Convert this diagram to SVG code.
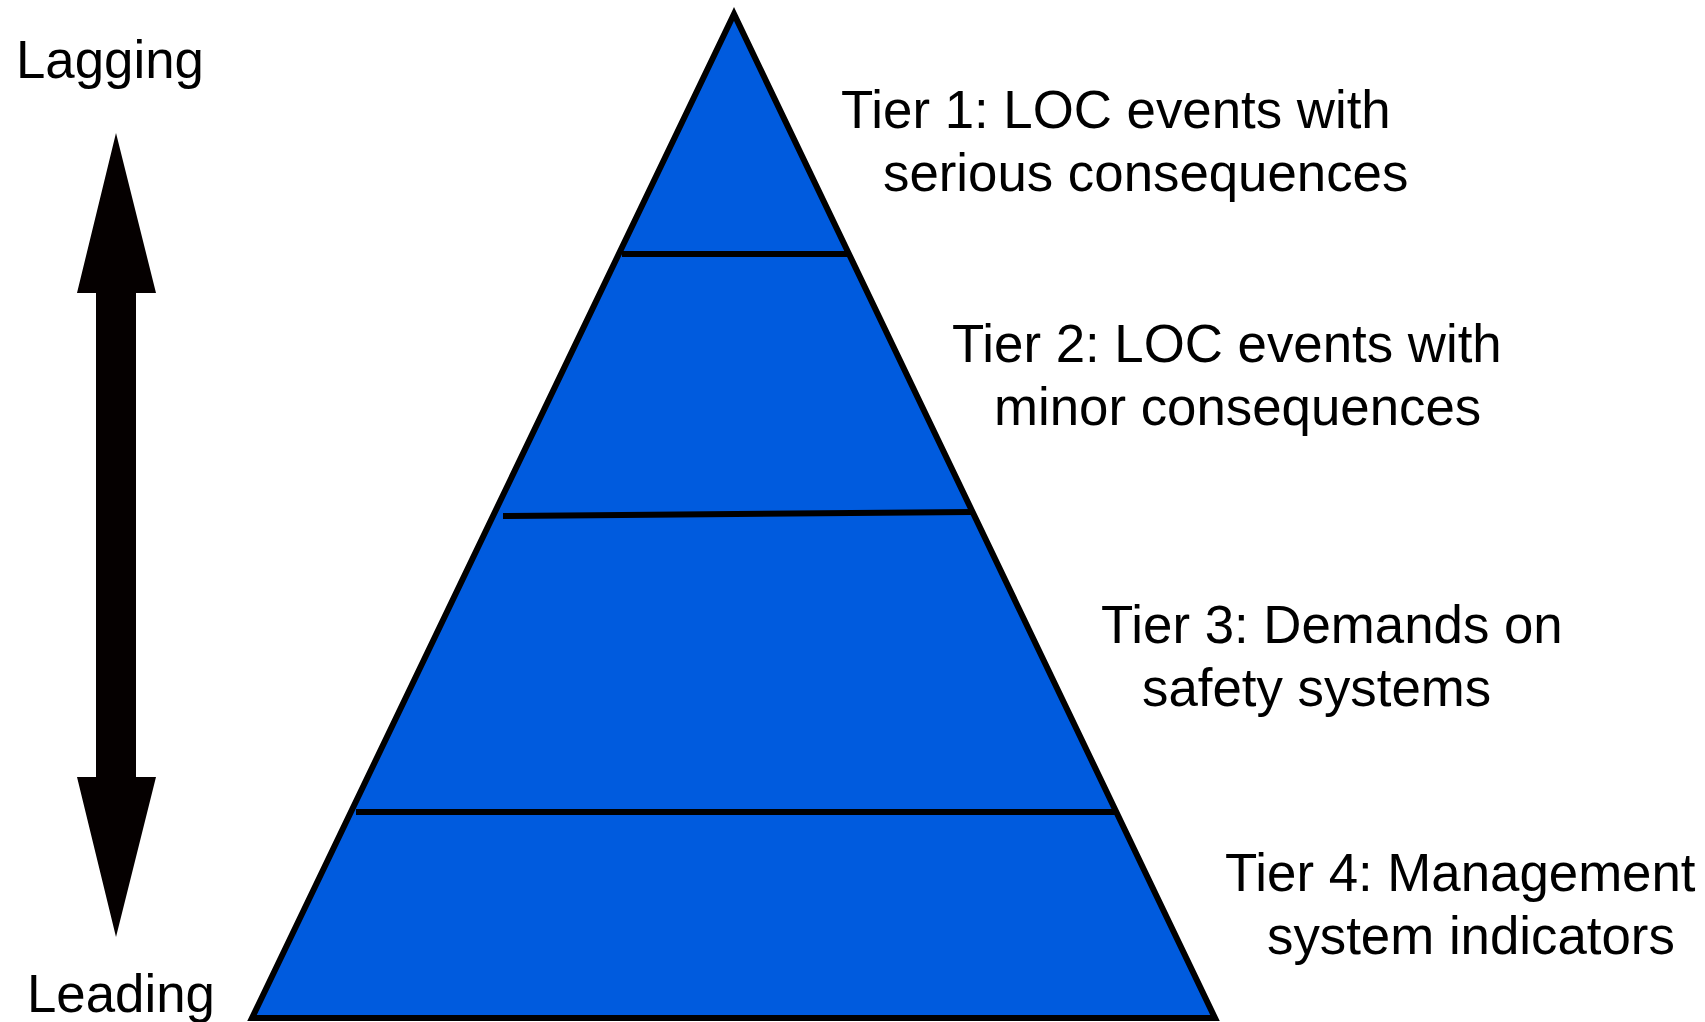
<svg xmlns="http://www.w3.org/2000/svg" width="1705" height="1022" viewBox="0 0 1705 1022">
<style>
.t{font-family:"Liberation Sans",Arial,sans-serif;font-size:52.8px;fill:#000}
.sep{stroke:#000;stroke-width:6;fill:none}
</style>
<rect x="0" y="0" width="1705" height="1022" fill="#fff"/>
<g id="pyramid">
<polygon points="734,14 252,1018 1215,1018" fill="#005BDE" stroke="#000" stroke-width="6" stroke-linejoin="miter"/>
</g>
<g id="separators">
<line class="sep" x1="622" y1="254" x2="848" y2="254"/>
<line class="sep" x1="503" y1="516" x2="972" y2="512"/>
<line class="sep" x1="356" y1="812" x2="1116" y2="812"/>
</g>
<g id="arrow">
<polygon points="116,133 156,293 136,293 136,777 156,777 116,937 77,777 96,777 96,293 77,293" fill="#050000"/>
</g>
<g id="lagging"><text class="t" x="16" y="78">Lagging</text></g>
<g id="leading"><text class="t" x="27" y="1012">Leading</text></g>
<g id="tier1">
<text class="t" x="841" y="128">Tier 1: LOC events with</text>
<text class="t" x="883" y="191">serious consequences</text>
</g>
<g id="tier2">
<text class="t" x="952" y="362">Tier 2: LOC events with</text>
<text class="t" x="994" y="425">minor consequences</text>
</g>
<g id="tier3">
<text class="t" x="1101" y="643">Tier 3: Demands on</text>
<text class="t" x="1142" y="706">safety systems</text>
</g>
<g id="tier4">
<text class="t" x="1225" y="891">Tier 4: Management</text>
<text class="t" x="1267" y="954">system indicators</text>
</g>
</svg>
